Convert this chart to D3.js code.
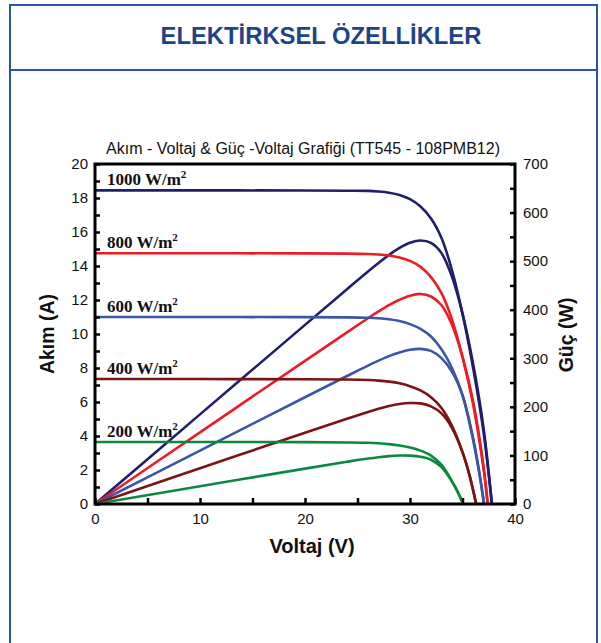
<!DOCTYPE html>
<html>
<head>
<meta charset="utf-8">
<script src="https://cdn.jsdelivr.net/npm/d3@7"></script>
<style>
  body { margin: 0; background: #fff; }
  svg { font-family: Arial, "Liberation Sans", sans-serif; }
  .lvl { font-family: "Liberation Serif", "Times New Roman", serif; font-weight: bold; }
</style>
</head>
<body>
<div id="chart"></div>
<script>
// irradiance levels (W/m2) and their colours
const levels = ['1000', '800', '600', '400', '200']
const colors = ['#1f1f6e', '#ed1c24', '#3a56a6', '#7b1416', '#0b8a3f']

// I-V / P-V readings per level: voltage (V), current (A), power (W)
const v1000 = [0, 10, 20, 24, 26, 27, 28, 29, 30, 31, 32, 33, 34, 35, 36, 37, 37.8]
const i1000 = [18.45, 18.45, 18.44, 18.43, 18.42, 18.38, 18.31, 18.18, 17.93, 17.5, 16.8, 15.65, 13.75, 11.2, 8.05, 4.25, 0]
const p1000 = [0, 184.5, 368.8, 442.3, 478.9, 496.3, 512.7, 527.2, 537.9, 542.5, 537.6, 516.5, 467.5, 392, 289.8, 157.3, 0]

const v800 = [0, 10, 20, 24, 26, 27, 28, 29, 30, 31, 32, 33, 34, 35, 36, 37, 37.4]
const i800 = [14.75, 14.75, 14.74, 14.73, 14.71, 14.68, 14.62, 14.5, 14.3, 13.95, 13.35, 12.4, 10.85, 8.65, 5.9, 2.1, 0]
const p800 = [0, 147.5, 294.8, 353.5, 382.5, 396.4, 409.4, 420.5, 429, 432.5, 427.2, 409.2, 368.9, 302.8, 212.4, 77.7, 0]

const v600 = [0, 10, 20, 24, 26, 27, 28, 29, 30, 31, 32, 33, 34, 35, 36, 36.6, 37.05]
const i600 = [11.0, 11.0, 10.99, 10.98, 10.96, 10.93, 10.87, 10.76, 10.58, 10.3, 9.85, 9.1, 8.0, 6.4, 3.8, 1.8, 0]
const p600 = [0, 110, 219.8, 263.5, 285, 295.1, 304.4, 312, 317.4, 319.3, 315.2, 300.3, 272, 224, 136.8, 65.9, 0]

const v400 = [0, 10, 20, 24, 26, 27, 28, 29, 30, 31, 32, 33, 34, 35, 35.7, 36.3]
const i400 = [7.35, 7.35, 7.34, 7.32, 7.29, 7.26, 7.2, 7.1, 6.93, 6.68, 6.28, 5.65, 4.6, 3.05, 1.6, 0]
const p400 = [0, 73.5, 146.8, 175.7, 189.5, 196, 201.6, 205.9, 207.9, 207.1, 201, 186.5, 156.4, 106.8, 57.1, 0]

const v200 = [0, 10, 20, 24, 26, 27, 28, 29, 30, 31, 32, 33, 34, 34.6, 35.05]
const i200 = [3.65, 3.65, 3.64, 3.62, 3.6, 3.57, 3.52, 3.44, 3.32, 3.14, 2.85, 2.3, 1.35, 0.65, 0]
const p200 = [0, 36.5, 72.8, 86.9, 93.6, 96.4, 98.6, 99.8, 99.6, 97.3, 91.2, 75.9, 45.9, 22.5, 0]

const currentTicks = [0, 2, 4, 6, 8, 10, 12, 14, 16, 18, 20]
const powerTicks = [0, 100, 200, 300, 400, 500, 600, 700]
const voltTicks = [0, 10, 20, 30, 40]

const header = 'ELEKTİRKSEL ÖZELLİKLER'
const title = 'Akım - Voltaj & Güç -Voltaj Grafiği (TT545 - 108PMB12)'

const series = [
  { v: v1000, i: i1000, p: p1000 },
  { v: v800, i: i800, p: p800 },
  { v: v600, i: i600, p: p600 },
  { v: v400, i: i400, p: p400 },
  { v: v200, i: i200, p: p200 }
].map((s, k) => ({ ...s, level: levels[k], color: colors[k] }))

const W = 601
const H = 643
const margin = { top: 164, right: 86, bottom: 139, left: 95 }
const width = W - margin.left - margin.right
const height = H - margin.top - margin.bottom

const svg = d3.select('#chart').append('svg')
  .attr('width', W)
  .attr('height', H)

// page frame
const frameColor = '#2756a4'
svg.append('path')
  .attr('d', 'M10,' + H + 'V5H597V' + H)
  .attr('fill', 'none')
  .attr('stroke', frameColor)
  .attr('stroke-width', 2)
svg.append('line')
  .attr('x1', 10).attr('x2', 597)
  .attr('y1', 70).attr('y2', 70)
  .attr('stroke', frameColor)
  .attr('stroke-width', 2)
svg.append('text')
  .attr('x', 321).attr('y', 44)
  .attr('text-anchor', 'middle')
  .attr('font-size', 23.8)
  .attr('font-weight', 'bold')
  .attr('fill', '#1d4489')
  .text(header)

const x = d3.scaleLinear().domain([0, 40]).range([0, width])
const yI = d3.scaleLinear().domain([0, 20]).range([height, 0])
const yP = d3.scaleLinear().domain([0, 700]).range([height, 0])

const g = svg.append('g')
  .attr('transform', 'translate(' + margin.left + ',' + margin.top + ')')

g.append('text')
  .attr('x', width / 2 - 2).attr('y', -10)
  .attr('text-anchor', 'middle')
  .attr('font-size', 16)
  .attr('fill', '#111')
  .text(title)

// curves
const ivLine = d3.line()
  .x(d => x(d.v))
  .y(d => yI(d.i))
  .curve(d3.curveCatmullRom.alpha(0.5))
const pvLine = d3.line()
  .x(d => x(d.v))
  .y(d => yP(d.p))
  .curve(d3.curveCatmullRom.alpha(0.5))

const curves = g.append('g').attr('fill', 'none').attr('stroke-width', 2.6)
series.forEach(s => {
  const pts = s.v.map((v, k) => ({ v, i: s.i[k], p: s.p[k] }))
  curves.append('path').attr('d', ivLine(pts)).attr('stroke', s.color)
  curves.append('path').attr('d', pvLine(pts)).attr('stroke', s.color)
})

// level labels
series.forEach(s => {
  const t = g.append('text')
    .attr('class', 'lvl')
    .attr('x', 12).attr('y', yI(s.i[0]) - 5)
    .attr('font-size', 17)
    .attr('fill', '#111')
  t.append('tspan').text(s.level + ' W/m')
  t.append('tspan').attr('dy', -7).attr('font-size', 11).text('2')
})

// axes
const tickStyle = sel => {
  sel.select('.domain').remove()
  sel.selectAll('.tick line').attr('stroke', '#000').attr('stroke-width', 2.5)
  sel.selectAll('.tick text').attr('font-size', 15).attr('fill', '#111')
}

const leftMinor = g.append('g').call(d3.axisRight(yI).ticks(20).tickSize(5).tickFormat(''))
leftMinor.call(tickStyle)
const left = g.append('g').call(d3.axisLeft(yI).tickValues(currentTicks).tickSize(0).tickPadding(7))
left.call(tickStyle)

const rightMinor = g.append('g').attr('transform', 'translate(' + width + ',0)')
  .call(d3.axisLeft(yP).ticks(14).tickSize(5).tickFormat(''))
rightMinor.call(tickStyle)
const right = g.append('g').attr('transform', 'translate(' + width + ',0)')
  .call(d3.axisRight(yP).tickValues(powerTicks).tickSize(0).tickPadding(8))
right.call(tickStyle)

const bottomMinor = g.append('g').attr('transform', 'translate(0,' + height + ')')
  .call(d3.axisTop(x).ticks(8).tickSize(6).tickFormat(''))
bottomMinor.call(tickStyle)
const bottom = g.append('g').attr('transform', 'translate(0,' + height + ')')
  .call(d3.axisBottom(x).tickValues(voltTicks).tickSize(0).tickPadding(9))
bottom.call(tickStyle)

// plot box
g.append('rect')
  .attr('width', width).attr('height', height)
  .attr('fill', 'none')
  .attr('stroke', '#000')
  .attr('stroke-width', 3)

// axis titles
g.append('text')
  .attr('transform', 'translate(-41,' + height / 2 + ') rotate(-90)')
  .attr('text-anchor', 'middle')
  .attr('font-size', 19.5)
  .attr('font-weight', 'bold')
  .attr('fill', '#111')
  .text('Akım (A)')
g.append('text')
  .attr('transform', 'translate(' + (width + 58) + ',' + (height / 2 + 1) + ') rotate(-90)')
  .attr('text-anchor', 'middle')
  .attr('font-size', 19.5)
  .attr('font-weight', 'bold')
  .attr('fill', '#111')
  .text('Güç (W)')
g.append('text')
  .attr('x', width / 2 + 7).attr('y', height + 49)
  .attr('text-anchor', 'middle')
  .attr('font-size', 20)
  .attr('font-weight', 'bold')
  .attr('fill', '#111')
  .text('Voltaj (V)')
</script>
</body>
</html>
